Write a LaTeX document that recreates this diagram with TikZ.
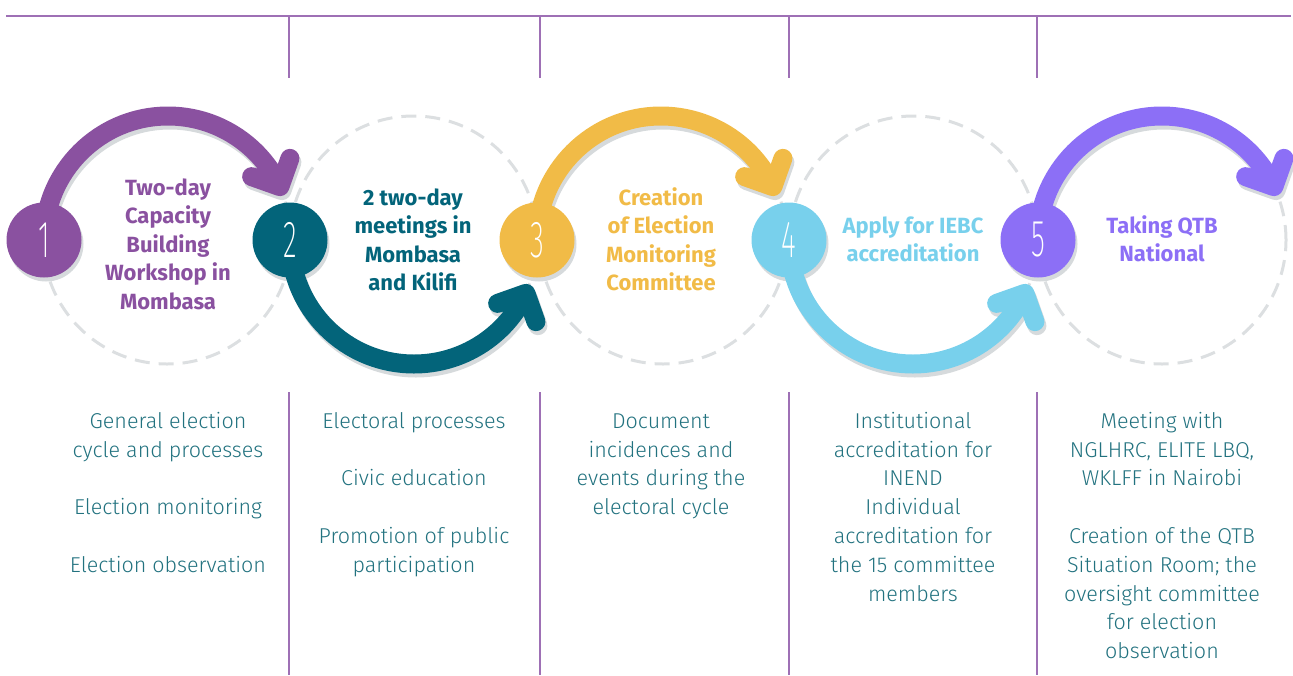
\documentclass[tikz,border=0pt]{standalone}
\usepackage{fontspec}
\usepackage{graphicx}
\setmainfont{Fira Sans}
\newfontfamily\titlefont{Fira Sans Bold}
\newfontfamily\bodyfont{Fira Sans Light}
\newfontfamily\numfont{Fira Sans ExtraLight}
\usetikzlibrary{backgrounds}

\definecolor{stepA}{HTML}{8A51A0}
\definecolor{stepB}{HTML}{03647A}
\definecolor{stepC}{HTML}{F1BB47}
\definecolor{stepD}{HTML}{78D0EC}
\definecolor{stepE}{HTML}{8C6FF6}
\definecolor{rulec}{HTML}{9E70B5}
\definecolor{ringc}{HTML}{DCDFE1}
\definecolor{shadowc}{HTML}{D6DADC}
\definecolor{bodyc}{HTML}{22727F}

% arrow along the upper half of a ring, ending in a round chevron
\newcommand\upperArc[2]{%
  \draw[band, draw=#2] (#1.center) arc[start angle=180, end angle=25.5, radius=124]
    coordinate (tip) ++(160.5:30) -- (tip) -- ++(70.5:30);}
% arrow along the lower half of a ring
\newcommand\lowerArc[2]{%
  \draw[band, draw=#2] (#1.center) arc[start angle=180, end angle=334.5, radius=124]
    coordinate (tip) ++(199.5:30) -- (tip) -- ++(289.5:30);}

\begin{document}
\begin{tikzpicture}[x=1pt, y=1pt,
  rule/.style={draw=rulec, line width=1.6pt},
  ring/.style={draw=ringc, line width=3pt, dash pattern=on 15pt off 9pt},
  num/.style={circle, fill=#1, minimum size=75pt, inner sep=0pt, text=white,
    font=\numfont\fontsize{52}{52}\selectfont},
  band/.style={line width=19pt, line cap=round, line join=round},
  drop/.style={transform canvas={xshift=2pt, yshift=-4pt}},
  title/.style={align=center, anchor=north, inner sep=0pt, text=#1,
    font=\titlefont\fontsize{22}{28.5}\selectfont},
  body/.style={align=center, anchor=north, inner sep=0pt, text=bodyc,
    font=\bodyfont\fontsize{21.5}{28.8}\selectfont},
]
\useasboundingbox (0,0) rectangle (1293,-675);

% frame rules
\coordinate (rl) at (6,-16);
\coordinate (rr) at (1291,-16);
\draw[rule] (rl) -- (rr);
\foreach \x [count=\k] in {289,540,789,1037}{
  \coordinate (ut\k) at (\x,-16);
  \coordinate (ub\k) at (\x,-78);
  \coordinate (lt\k) at (\x,-392);
  \coordinate (lb\k) at (\x,-675);
  \draw[rule] (ut\k) -- (ub\k);
  \draw[rule] (lt\k) -- (lb\k);
}

% numbered steps
\node[num=stepA] (n1) at (44,-240)   {\scalebox{0.55}[1]{1}};
\node[num=stepB] (n2) at (290,-240)  {\scalebox{0.55}[1]{2}};
\node[num=stepC] (n3) at (537,-240)  {\scalebox{0.55}[1]{3}};
\node[num=stepD] (n4) at (789,-240)  {\scalebox{0.55}[1]{4}};
\node[num=stepE] (n5) at (1038,-240) {\scalebox{0.55}[1]{5}};

% step titles
\node[title=stepA] (h1) at (168,-175) {\strut Two-day\\Capacity\\Building\\Workshop in\\Mombasa};
\node[title=stepB] (h2) at (413,-185) {\strut 2 two-day\\meetings in\\Mombasa\\and Kilifi};
\node[title=stepC] (h3) at (661,-185) {\strut Creation\\of Election\\Monitoring\\Committee};
\node[title=stepD] (h4) at (913,-213) {\strut Apply for IEBC\\accreditation};
\node[title=stepE] (h5) at (1162,-213) {\strut Taking QTB\\National};

% step details
\node[body] (b1) at (168,-408) {\strut General election\\cycle and processes\\[28.8pt]Election monitoring\\[28.8pt]Election observation};
\node[body] (b2) at (414,-408) {\strut Electoral processes\\[28.8pt]Civic education\\[28.8pt]Promotion of public\\participation};
\node[body] (b3) at (661,-408) {\strut Document\\incidences and\\events during the\\electoral cycle};
\node[body] (b4) at (913,-408) {\strut Institutional\\accreditation for\\INEND\\Individual\\accreditation for\\the 15 committee\\members};
\node[body] (b5) at (1162,-408) {\strut Meeting with\\NGLHRC, ELITE LBQ,\\WKLFF in Nairobi\\[28.8pt]Creation of the QTB\\Situation Room; the\\oversight committee\\for election\\observation};

\begin{scope}[on background layer]
  % dashed rings
  \foreach \cx in {167,413.5,663,913.5,1162}
    \draw[ring] (\cx,-240) circle[radius=124];
  % drop shadows
  \begin{scope}[drop]
    \upperArc{n1}{shadowc}
    \lowerArc{n2}{shadowc}
    \upperArc{n3}{shadowc}
    \lowerArc{n4}{shadowc}
    \upperArc{n5}{shadowc}
    \foreach \k in {1,...,5}
      \fill[shadowc] (n\k.center) circle[radius=37.5];
  \end{scope}
  % arrows
  \upperArc{n1}{stepA}
  \lowerArc{n2}{stepB}
  \upperArc{n3}{stepC}
  \lowerArc{n4}{stepD}
  \upperArc{n5}{stepE}
\end{scope}
\end{tikzpicture}
\end{document}
